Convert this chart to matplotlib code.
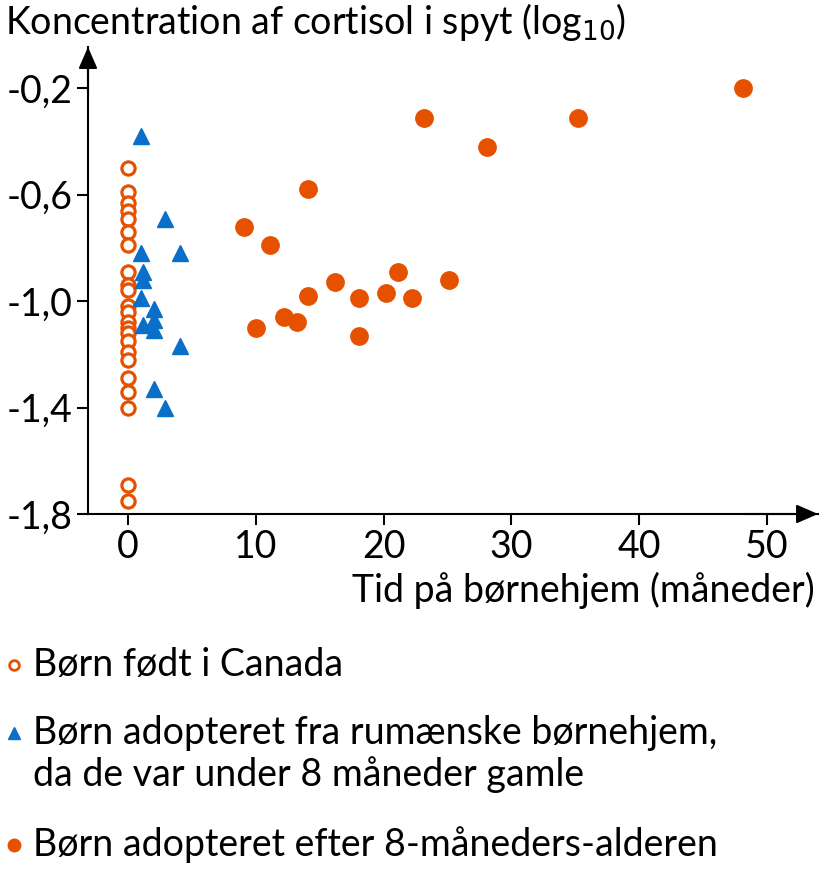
import numpy as np
import matplotlib
matplotlib.use("Agg")
from matplotlib import pyplot as plt

# data
canada_y = [-0.50, -0.59, -0.63, -0.66, -0.69, -0.74, -0.79, -0.89, -0.94, -0.96,
            -1.02, -1.04, -1.08, -1.10, -1.12, -1.15, -1.19, -1.22, -1.29, -1.34,
            -1.40, -1.69, -1.75]
canada_x = [0] * len(canada_y)

early_x = [1.0, 2.9, 1.0, 4.1, 1.2, 1.2, 1.0, 2.0, 2.0, 1.2, 2.0, 4.1, 2.0, 2.9]
early_y = [-0.38, -0.69, -0.82, -0.82, -0.89, -0.92, -0.99, -1.03, -1.07, -1.09,
           -1.11, -1.17, -1.33, -1.40]

late_x = [48.1, 23.2, 35.2, 28.1, 14.1, 9.1, 11.1, 21.1, 25.1, 16.2, 20.2, 14.1,
          18.1, 22.2, 12.2, 13.2, 10.0, 18.1]
late_y = [-0.20, -0.31, -0.31, -0.42, -0.58, -0.72, -0.79, -0.89, -0.92, -0.93,
          -0.97, -0.98, -0.99, -0.99, -1.06, -1.08, -1.10, -1.13]

yticks = [-0.2, -0.6, -1.0, -1.4, -1.8]
xticks = [0, 10, 20, 30, 40, 50]

orange = '#E65100'
blue = '#0A6FC8'

plt.rcParams['font.family'] = ['Lato', 'DejaVu Sans']
fs = 27

fig = plt.figure(figsize=(8.22, 8.74), dpi=100)
ax = fig.add_axes([88/822, 1-514/874, (818-88)/822, (514-47)/874])

ax.plot(canada_x, canada_y, 'o', mfc='white', mec=orange, mew=2.3, ms=9.5, ls='none', clip_on=False)
ax.plot(early_x, early_y, '^', color=blue, ms=11, ls='none', clip_on=False)
ax.plot(late_x, late_y, 'o', color=orange, ms=12.5, ls='none', clip_on=False)

ax.set_xlim(-3.13, 54.0)
ax.set_ylim(-1.8, -0.045)
ax.spines['top'].set_visible(False)
ax.spines['right'].set_visible(False)
for s in ['left', 'bottom']:
    ax.spines[s].set_linewidth(1.5)

ax.set_yticks(yticks)
ax.set_yticklabels([('%.1f' % v).replace('.', ',') for v in yticks])
ax.set_xticks(xticks)
ax.set_xticklabels([str(v) for v in xticks])
ax.tick_params(axis='both', labelsize=fs, width=1.5, length=8, direction='out', pad=3)

# axis arrows
astyle = '-|>,head_length=0.55,head_width=0.24'
ax.annotate('', xy=(0, 1.0), xytext=(0, 0.9), xycoords='axes fraction',
            arrowprops=dict(arrowstyle=astyle, color='black', lw=1.5, mutation_scale=24,
                            shrinkA=0, shrinkB=0))
ax.annotate('', xy=(1.0, 0), xytext=(0.9, 0), xycoords='axes fraction',
            arrowprops=dict(arrowstyle=astyle, color='black', lw=1.5, mutation_scale=24,
                            shrinkA=0, shrinkB=0))

fig.text(5/822, 1-22/874, 'Koncentration af cortisol i spyt (log$_{10}$)', fontsize=fs,
         ha='left', va='center')
fig.text(815/822, 1-590/874, 'Tid på børnehjem (måneder)', fontsize=fs, ha='right', va='center')

# legend drawn by hand
lx = 14/822
fig.lines.append(plt.Line2D([lx], [1-665/874], marker='o', mfc='white', mec=orange, mew=2,
                            ms=7, transform=fig.transFigure, ls='none'))
fig.lines.append(plt.Line2D([lx], [1-733/874], marker='^', color=blue, ms=8,
                            transform=fig.transFigure, ls='none'))
fig.lines.append(plt.Line2D([lx], [1-845/874], marker='o', color=orange, ms=9,
                            transform=fig.transFigure, ls='none'))
tx = 33/822
fig.text(tx, 1-665/874, 'Børn født i Canada', fontsize=fs, va='center')
fig.text(tx, 1-754/874, 'Børn adopteret fra rumænske børnehjem,\nda de var under 8 måneder gamle',
         fontsize=fs, va='center', linespacing=1.2)
fig.text(tx, 1-845/874, 'Børn adopteret efter 8-måneders-alderen', fontsize=fs, va='center')

fig.savefig('out.png', dpi=100)
